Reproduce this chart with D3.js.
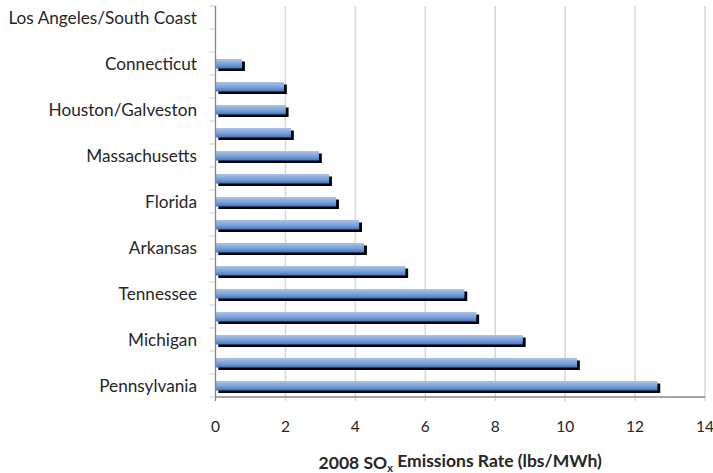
<!DOCTYPE html>
<html>
<head>
<meta charset="utf-8">
<script src="https://cdn.jsdelivr.net/npm/d3@7"></script>
<style>
  body { margin: 0; background: #fff; }
  svg text { font-family: Lato, "Open Sans", sans-serif; fill: #262626; }
</style>
</head>
<body>
<div id="plot"></div>
<script>
// rows top to bottom, only every second one carries a label
const labels = ["Los Angeles/South Coast", "", "Connecticut", "", "Houston/Galveston", "",
    "Massachusetts", "", "Florida", "", "Arkansas", "", "Tennessee", "", "Michigan", "", "Pennsylvania"];
const rates = [0, 0, 0.76, 1.96, 2.01, 2.16, 2.96, 3.25, 3.45, 4.11, 4.25, 5.43, 7.12, 7.46, 8.79, 10.34, 12.64];
const xTicks = [0, 2, 4, 6, 8, 10, 12, 14];

const width = 713, height = 473;
const left = 215.5, right = 705, top_bound = 6, bottom = 397;

const svg = d3.select("#plot").append("svg")
    .attr("width", width)
    .attr("height", height);

const x = d3.scaleLinear().domain([0, 14]).range([left, right]);
const y = d3.scaleBand().domain(d3.range(labels.length)).range([top_bound, bottom]);
const step = y.step();

// bar gradient
const grad = svg.append("defs").append("linearGradient")
    .attr("id", "barfill")
    .attr("x1", 0).attr("y1", 0).attr("x2", 0).attr("y2", 1);
grad.append("stop").attr("offset", "0%").attr("stop-color", "#a8c4ea");
grad.append("stop").attr("offset", "55%").attr("stop-color", "#7aa1d9");
grad.append("stop").attr("offset", "100%").attr("stop-color", "#4574ba");

// vertical gridlines
svg.selectAll("line.grid").data(xTicks.slice(1)).enter().append("line")
    .attr("class", "grid")
    .attr("x1", d => x(d)).attr("x2", d => x(d))
    .attr("y1", top_bound).attr("y2", bottom + 4)
    .attr("stroke", "#d9d9d9")
    .attr("stroke-width", 1.6);

// left tick marks at band edges
svg.selectAll("line.ytick").data(d3.range(labels.length + 1)).enter().append("line")
    .attr("class", "ytick")
    .attr("x1", left - 6).attr("x2", left)
    .attr("y1", i => top_bound + i * step).attr("y2", i => top_bound + i * step)
    .attr("stroke", "#d9d9d9")
    .attr("stroke-width", 1.2);

// shadows
svg.selectAll("rect.shadow").data(rates).enter().append("rect")
    .attr("class", "shadow")
    .attr("x", x(0) + 2.8)
    .attr("y", (d, i) => y(i) + 9.5)
    .attr("width", d => d > 0 ? x(d) - x(0) : 0)
    .attr("height", 9.5)
    .attr("fill", "#000");

// bars
svg.selectAll("rect.bar").data(rates).enter().append("rect")
    .attr("class", "bar")
    .attr("x", x(0))
    .attr("y", (d, i) => y(i) + 7)
    .attr("width", d => x(d) - x(0))
    .attr("height", 9.5)
    .attr("fill", "url(#barfill)");

// axes lines
svg.append("line")
    .attr("x1", left).attr("x2", left)
    .attr("y1", top_bound).attr("y2", bottom)
    .attr("stroke", "#868686").attr("stroke-width", 1.3);
svg.append("line")
    .attr("x1", left).attr("x2", right)
    .attr("y1", bottom).attr("y2", bottom)
    .attr("stroke", "#868686").attr("stroke-width", 1.3);
svg.append("line")
    .attr("x1", left).attr("x2", left)
    .attr("y1", bottom).attr("y2", bottom + 4)
    .attr("stroke", "#868686").attr("stroke-width", 1.3);

// category labels
svg.selectAll("text.cat").data(labels).enter().append("text")
    .attr("class", "cat")
    .attr("x", 197)
    .attr("y", (d, i) => y(i) + step / 2)
    .attr("dy", "0.35em")
    .attr("text-anchor", "end")
    .style("font-size", "17.2px")
    .text(d => d);

// x tick labels
svg.selectAll("text.xtick").data(xTicks).enter().append("text")
    .attr("class", "xtick")
    .attr("x", d => x(d))
    .attr("y", 427)
    .attr("dy", "0.35em")
    .attr("text-anchor", "middle")
    .style("font-size", "15.5px")
    .text(d => d);

// axis title
const title = svg.append("text")
    .attr("x", (left + right) / 2)
    .attr("y", 463)
    .attr("dy", "0.35em")
    .attr("text-anchor", "middle")
    .style("font-size", "17.5px")
    .style("font-weight", "bold");
title.append("tspan").text("2008 SO");
title.append("tspan").attr("dy", "0.3em").style("font-size", "11px").text("x");
title.append("tspan").attr("dy", "-0.3em").text(" Emissions Rate (lbs/MWh)");
</script>
</body>
</html>
